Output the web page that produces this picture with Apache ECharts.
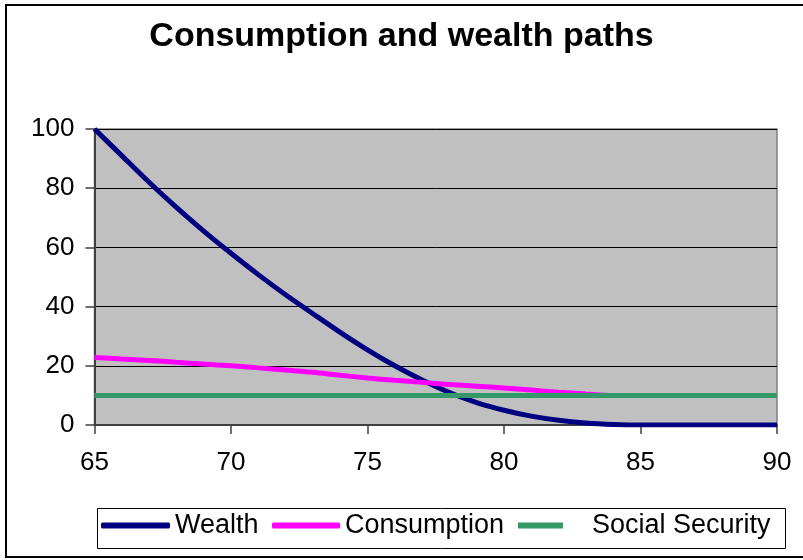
<!DOCTYPE html>
<html>
<head>
<meta charset="utf-8">
<script src="https://cdn.jsdelivr.net/npm/echarts@6/dist/echarts.min.js"></script>
<style>html,body{margin:0;padding:0;background:#fff;}#c{width:803px;height:560px;}</style>
</head>
<body>
<div id="c"></div>
<script>
var ages = [65,66,67,68,69,70,71,72,73,74,75,76,77,78,79,80,81,82,83,84,85,86,87,88,89,90];
var wealth = [100,91,82,73.5,65.5,58,50.8,44,37.6,31.3,25.4,20,15.2,11,7.6,5,3,1.6,0.7,0.2,0,0,0,0,0,0];
var consumption = [22.8,22.3,21.8,21.2,20.6,20.0,19.3,18.6,17.8,16.8,15.9,15.1,14.4,13.7,13.1,12.5,11.8,11.1,10.5,10,10,10,10,10,10,10];
var socialSecurity = [10,10,10,10,10,10,10,10,10,10,10,10,10,10,10,10,10,10,10,10,10,10,10,10,10,10];
var seriesNames = ['Wealth','Consumption','Social Security'];
var titleText = 'Consumption and wealth paths';

function pairs(vals){ return ages.map(function(a,i){ return [a, vals[i]]; }); }

var FONT = "'Liberation Sans', Arial, sans-serif";
var chart = echarts.init(document.getElementById('c'), null, {renderer:'canvas'});
var legendText = {fontFamily: FONT, fontSize: 27, color: '#000'};
chart.setOption({
  animation: false,
  backgroundColor: '#fff',
  title: {
    text: titleText, left: 'center', top: 15,
    textStyle: {fontFamily: FONT, fontSize: 34, fontWeight: 'bold', color: '#000'}
  },
  grid: {
    left: 94.5, right: 26, top: 129, bottom: 135,
    show: true, backgroundColor: '#C0C0C0', borderColor: '#808080', borderWidth: 1.5
  },
  xAxis: {
    type: 'value', min: 65, max: 90, interval: 5,
    axisLine: {show: true, onZero: false, lineStyle: {color: '#404040', width: 2}},
    axisTick: {show: true, inside: false, length: 9, lineStyle: {color: '#404040', width: 1.5}},
    axisLabel: {fontFamily: FONT, fontSize: 26, color: '#000', margin: 25},
    splitLine: {show: false}
  },
  yAxis: {
    type: 'value', min: 0, max: 100, interval: 20,
    axisLine: {show: true, lineStyle: {color: '#404040', width: 2}},
    axisTick: {show: true, inside: false, length: 9, lineStyle: {color: '#404040', width: 1.5}},
    axisLabel: {fontFamily: FONT, fontSize: 26, color: '#000', margin: 20},
    splitLine: {show: true, lineStyle: {color: '#000', width: 1}}
  },
  legend: [
    {data: [{name: seriesNames[0], icon: 'roundRect'}], left: 101, top: 512, padding: 0, itemWidth: 69, itemHeight: 6, textStyle: legendText},
    {data: [{name: seriesNames[1], icon: 'roundRect'}], left: 272, top: 512, padding: 0, itemWidth: 68, itemHeight: 6, textStyle: legendText},
    {data: [{name: seriesNames[2], icon: 'rect'}], left: 518, top: 512, padding: 0, itemWidth: 45, itemHeight: 6,
     textStyle: {fontFamily: FONT, fontSize: 27, color: '#000', padding: [0,0,0,24]}}
  ],
  graphic: [
    {type: 'rect', left: 95, top: 506, shape: {width: 688, height: 40}, style: {fill: 'none', stroke: '#000', lineWidth: 1}, z: -1},
    {type: 'rect', shape: {x: 6, y: 5, width: 820, height: 552}, style: {fill: 'none', stroke: '#000', lineWidth: 2}, z: 100}
  ],
  series: [
    {name: seriesNames[0], type: 'line', data: pairs(wealth), symbol: 'none', smooth: 0.3,
     lineStyle: {color: '#000080', width: 5}, itemStyle: {color: '#000080'}},
    {name: seriesNames[1], type: 'line', data: pairs(consumption), symbol: 'none', smooth: 0.3,
     lineStyle: {color: '#FF00FF', width: 5}, itemStyle: {color: '#FF00FF'}},
    {name: seriesNames[2], type: 'line', data: pairs(socialSecurity), symbol: 'none',
     lineStyle: {color: '#339966', width: 5}, itemStyle: {color: '#339966'}}
  ]
});
</script>
</body>
</html>
